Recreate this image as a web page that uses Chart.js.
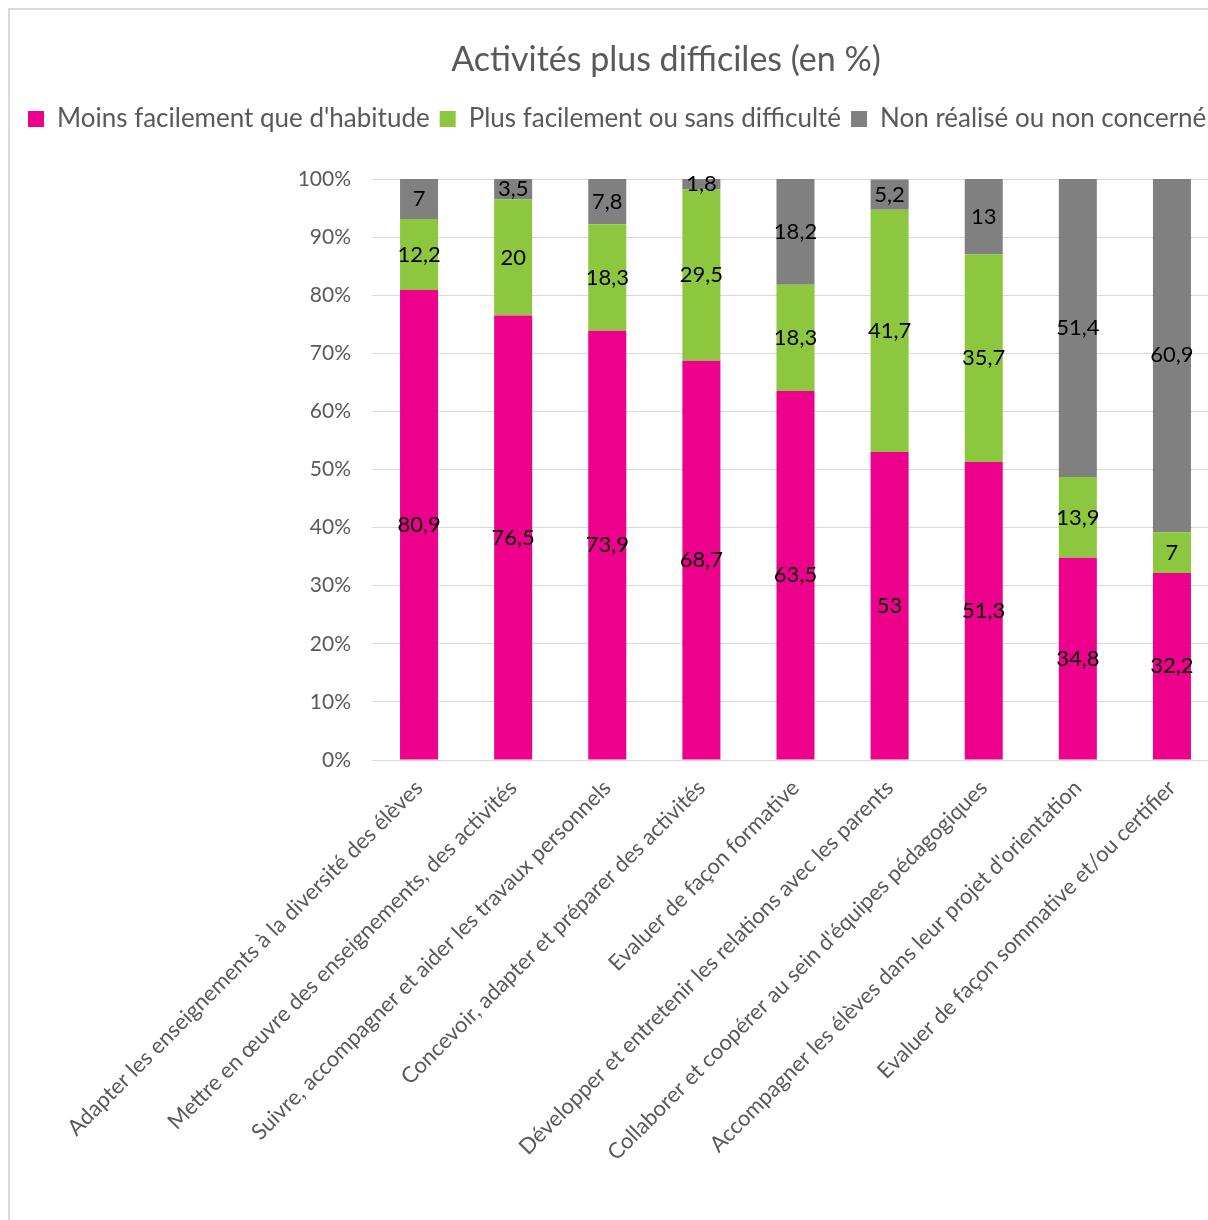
<!DOCTYPE html>
<html lang="fr">
<head>
<meta charset="utf-8">
<title>Activités plus difficiles (en %)</title>
<script src="https://cdn.jsdelivr.net/npm/chart.js@4/dist/chart.umd.min.js"></script>
<style>
  html, body { margin: 0; padding: 0; background: #fff; overflow: hidden; }
  #frame { position: absolute; left: 8px; top: 8px; width: 1300px; height: 1300px;
           border-left: 2px solid #d9d9d9; border-top: 2px solid #d9d9d9; }
  #wrap { position: absolute; left: 0; top: 0; width: 1314px; height: 1220px; }
</style>
</head>
<body>
<div id="frame"></div>
<div id="wrap"><canvas id="chart"></canvas></div>
<script>
const categories = [
  "Adapter les enseignements à la diversité des élèves",
  "Mettre en œuvre des enseignements, des activités",
  "Suivre, accompagner et aider les travaux personnels",
  "Concevoir, adapter et préparer des activités",
  "Evaluer de façon formative",
  "Développer et entretenir les relations avec les parents",
  "Collaborer et coopérer au sein d'équipes pédagogiques",
  "Accompagner les élèves dans leur projet d'orientation",
  "Evaluer de façon sommative et/ou certifier"
];
const seriesNames = ["Moins facilement que d'habitude", "Plus facilement ou sans difficulté", "Non réalisé ou non concerné"];
const moinsFacilement = [80.9, 76.5, 73.9, 68.7, 63.5, 53, 51.3, 34.8, 32.2];
const plusFacilement = [12.2, 20, 18.3, 29.5, 18.3, 41.7, 35.7, 13.9, 7];
const nonRealise = [7, 3.5, 7.8, 1.8, 18.2, 5.2, 13, 51.4, 60.9];
const yTicks = [0, 10, 20, 30, 40, 50, 60, 70, 80, 90, 100];

const textGray = "#595959";
const font = "Lato";

// labels au centre de chaque segment
const segmentLabels = {
  id: 'segmentLabels',
  afterDatasetsDraw(chart) {
    const ctx = chart.ctx;
    ctx.save();
    ctx.font = "22px " + font;
    ctx.fillStyle = "#000";
    ctx.textAlign = "center";
    ctx.textBaseline = "middle";
    chart.data.datasets.forEach((ds, i) => {
      const meta = chart.getDatasetMeta(i);
      meta.data.forEach((bar, j) => {
        const v = ds.data[j];
        ctx.fillText(String(v).replace('.', ','), bar.x, (bar.y + bar.base) / 2);
      });
    });
    ctx.restore();
  }
};

const ctx = document.getElementById('chart').getContext('2d');
const chart = new Chart(ctx, {
  type: 'bar',
  data: {
    labels: categories,
    datasets: [
      { label: seriesNames[0], data: moinsFacilement, backgroundColor: "#EC008C" },
      { label: seriesNames[1], data: plusFacilement, backgroundColor: "#8DC63F" },
      { label: seriesNames[2], data: nonRealise, backgroundColor: "#808080" }
    ]
  },
  options: {
    responsive: true,
    maintainAspectRatio: false,
    animation: false,
    categoryPercentage: 1,
    barPercentage: 0.404,
    layout: { padding: { left: 18, right: 0, top: 0, bottom: 0 } },
    plugins: {
      title: {
        display: true,
        text: "Activités plus difficiles (en %)",
        color: textGray,
        font: { family: font, size: 34, weight: 'normal' },
        padding: { top: 39.6, bottom: 15.6 }
      },
      legend: {
        display: true,
        position: 'top',
        align: 'start',
        weight: 1800,
        labels: {
          color: textGray,
          font: { family: font, size: 26 },
          boxWidth: 16,
          boxHeight: 16,
          padding: 10
        }
      },
      subtitle: {
        display: true,
        text: "",
        weight: 500,
        font: { size: 10, lineHeight: 1 },
        padding: { top: 0, bottom: 27 }
      },
      tooltip: { enabled: false }
    },
    scales: {
      x: {
        stacked: true,
        grid: { display: false, drawTicks: false },
        border: { display: true, color: "#D9D9D9", width: 1 },
        ticks: {
          color: textGray,
          font: { family: font, size: 22 },
          minRotation: 45,
          maxRotation: 45,
          autoSkip: false,
          padding: 15
        },
        afterFit: s => { s.height = 460; }
      },
      y: {
        stacked: true,
        min: 0,
        max: 100,
        afterBuildTicks: s => { s.ticks = yTicks.map(v => ({ value: v })); },
        grid: { color: "#D9D9D9", lineWidth: 1, drawTicks: false },
        border: { display: false },
        ticks: {
          color: textGray,
          font: { family: font, size: 21 },
          padding: 21,
          callback: v => v + "%"
        },
        afterFit: s => { s.width = 354; }
      },
      yRight: {
        position: 'right',
        display: true,
        grid: { display: false, drawTicks: false },
        border: { display: false },
        ticks: { display: false },
        afterFit: s => { s.width = 95; }
      }
    }
  },
  plugins: [segmentLabels]
});
</script>
</body>
</html>
